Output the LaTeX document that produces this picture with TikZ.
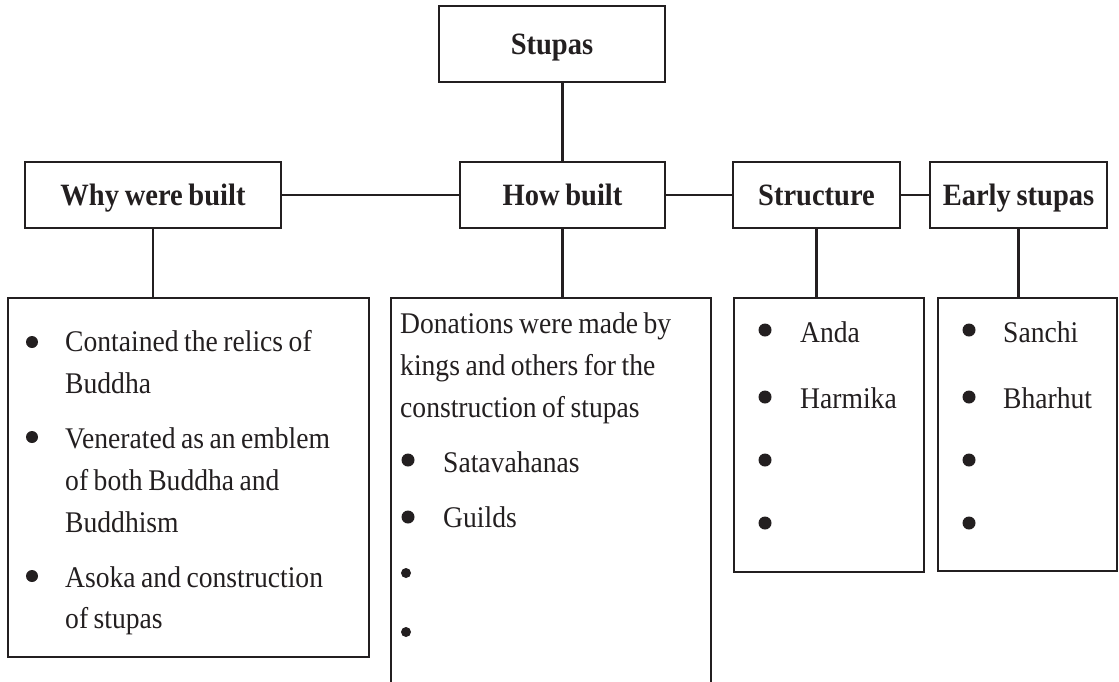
\documentclass[tikz,border=0pt]{standalone}
\usepackage{fontspec}
\setmainfont{Liberation Serif}[FakeStretch=0.92,WordSpace=0.8]
\definecolor{ink}{HTML}{231F20}
\tikzset{
 head/.style={draw=ink,line width=2.7pt,font=\fontsize{31}{36}\selectfont\bfseries,text=ink,
   text height=21pt,text depth=0pt,inner sep=0pt,minimum height=66pt},
 listbox/.style={draw=ink,line width=2pt,inner sep=0pt},
 link/.style={draw=ink,line width=2.7pt},
 txt/.style={anchor=base west,inner sep=0pt,font=\fontsize{30}{36}\selectfont,text=ink},
 dot/.style={fill=ink}
}
\begin{document}
\begin{tikzpicture}[x=1pt,y=-1pt]
 \useasboundingbox (0,0) rectangle (1119,681);
 \clip (0,0) rectangle (1119,681);
 % headings
 \node[head,minimum width=226pt,minimum height=76pt] (stupas) at (552,44) {Stupas};
 \node[head,minimum width=256pt] (why) at (153,195) {Why were built};
 \node[head,minimum width=205pt] (how) at (562.5,195) {How built};
 \node[head,minimum width=167pt] (struct) at (816.5,195) {Structure};
 \node[head,minimum width=177pt] (early) at (1018.5,195) {Early stupas};
 % boxes below
 \node[listbox,minimum width=361pt,minimum height=359pt] (whylist) at (188.5,477.5) {};
 \node[listbox,minimum width=320pt,minimum height=402pt] (howlist) at (551,499) {};
 \node[listbox,minimum width=190pt,minimum height=274pt] (structlist) at (829,435) {};
 \node[listbox,minimum width=179pt,minimum height=273pt] (earlylist) at (1027.5,434.5) {};
 % connectors
 \draw[link] (how.north) -- (how.north |- stupas.south);
 \draw[link] (why.east) -- (how.west);
 \draw[link] (how.east) -- (struct.west);
 \draw[link] (struct.east) -- (early.west);
 \draw[link] (why.south) -- (why.south |- whylist.north);
 \draw[link] (how.south) -- (how.south |- howlist.north);
 \draw[link] (struct.south) -- (struct.south |- structlist.north);
 \draw[link] (early.south) -- (early.south |- earlylist.north);
 % why were built
 \fill[dot] (32,342) circle (6);
 \fill[dot] (32,437) circle (6);
 \fill[dot] (32,576) circle (6);
 \node[txt] (why1) at (65,351) {Contained the relics of};
 \node[txt] (why2) at (65,393) {Buddha};
 \node[txt] (why3) at (65,448) {Venerated as an emblem};
 \node[txt] (why4) at (65,490) {of both Buddha and};
 \node[txt] (why5) at (65,532) {Buddhism};
 \node[txt] (why6) at (65,587) {Asoka and construction};
 \node[txt] (why7) at (65,628) {of stupas};
 % how built
 \node[txt] (how1) at (400,333) {Donations were made by};
 \node[txt] (how2) at (400,375) {kings and others for the};
 \node[txt] (how3) at (400,417) {construction of stupas};
 \fill[dot] (408,460) circle (6.5);
 \fill[dot] (408,517) circle (6.5);
 \fill[dot] (406,573) circle (5);
 \fill[dot] (406,632) circle (5);
 \node[txt] (how4) at (443,472) {Satavahanas};
 \node[txt] (how5) at (443,527) {Guilds};
 % structure
 \fill[dot] (765,330) circle (6.5);
 \fill[dot] (765,397) circle (6.5);
 \fill[dot] (765,460) circle (6.5);
 \fill[dot] (765,523) circle (6.5);
 \node[txt] (struct1) at (800,342) {Anda};
 \node[txt] (struct2) at (800,408) {Harmika};
 % early stupas
 \fill[dot] (969,330) circle (6.5);
 \fill[dot] (969,397) circle (6.5);
 \fill[dot] (969,460) circle (6.5);
 \fill[dot] (969,523) circle (6.5);
 \node[txt] (early1) at (1003,342) {Sanchi};
 \node[txt] (early2) at (1003,408) {Bharhut};
\end{tikzpicture}
\end{document}
